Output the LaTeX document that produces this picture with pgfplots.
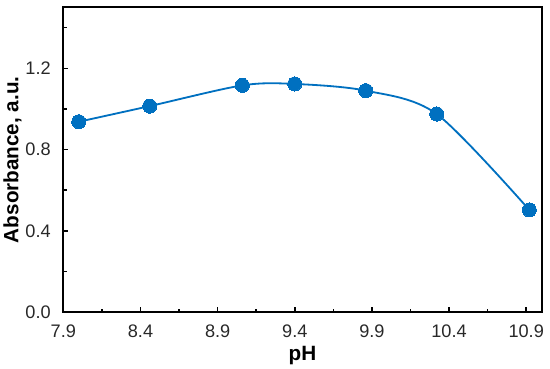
\documentclass[border=0pt]{standalone}
\usepackage{pgfplots}
\pgfplotsset{compat=1.18}
\usepackage{fontspec}
\setmainfont{Liberation Sans}
\definecolor{exblue}{RGB}{0,112,192}
\definecolor{ticktxt}{RGB}{40,40,40}
\begin{document}
\begin{tikzpicture}
\begin{axis}[
  at={(0,0)}, anchor=south west,
  width=474pt, height=302pt, scale only axis,
  xmin=7.9, xmax=11.0, ymin=0, ymax=1.5,
  xtick={7.9,8.4,8.9,9.4,9.9,10.4,10.9},
  minor xtick={8.15,8.65,9.15,9.65,10.15,10.65},
  ytick={0,0.4,0.8,1.2},
  minor ytick={0.2,0.6,1.0,1.4},
  xticklabel style={/pgf/number format/.cd,fixed,fixed zerofill,precision=1},
  yticklabel style={/pgf/number format/.cd,fixed,fixed zerofill,precision=1},
  /pgf/number format/assume math mode=true,
  tick label style={font=\fontsize{18}{20}\selectfont, text=ticktxt},
  tick align=inside,
  major tick length=5pt, minor tick length=3.5pt,
  every tick/.style={black, line width=1.6pt},
  xtick pos=bottom, ytick pos=left,
  axis line style={line width=1.9pt},
  xticklabel shift=9pt, yticklabel shift=9pt,
  xlabel={\textbf{pH}}, ylabel={\textbf{Absorbance, a.u.}},
  label style={font=\fontsize{20.5}{22}\selectfont},
  xlabel style={yshift=-2pt},
  ylabel style={yshift=-3pt},
  clip=false,
]
\addplot[exblue, line width=1.8pt, smooth, tension=0.5, mark=*, mark size=7pt, mark options={fill=exblue, draw=exblue, line width=0pt}]
  coordinates {(8.0,0.937) (8.46,1.014) (9.06,1.116) (9.4,1.123) (9.86,1.090) (10.32,0.975) (10.92,0.503)};
\end{axis}
\fill[black] ([xshift=-1pt,yshift=-1pt]current axis.north west) rectangle ([xshift=1pt,yshift=1pt]current axis.north east);
\fill[black] ([xshift=-1pt,yshift=1pt]current axis.north east) rectangle ([xshift=1pt,yshift=-1pt]current axis.south east);
\path (current axis.north east) ++(8.3pt,7.3pt);
\end{tikzpicture}
\end{document}
